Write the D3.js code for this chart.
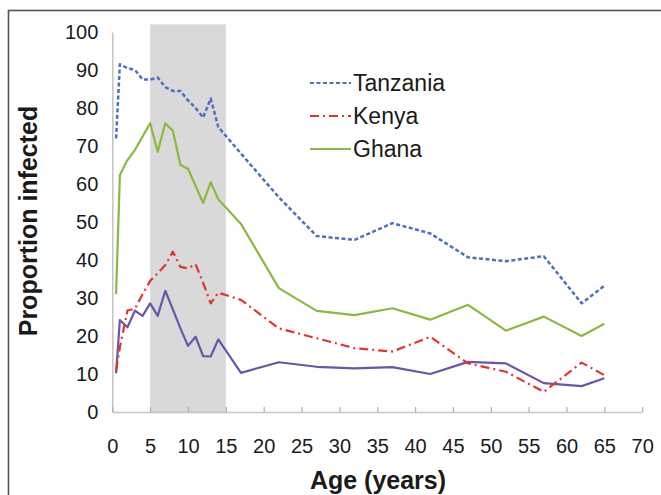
<!DOCTYPE html>
<html>
<head>
<meta charset="utf-8">
<script src="https://cdn.jsdelivr.net/npm/d3@7"></script>
<style>
  body { margin: 0; background: #fff; }
  text { font-family: "Liberation Sans", Arial, sans-serif; fill: #1a1a1a; }
</style>
</head>
<body>
<div id="chart"></div>
<script>

// age groups (years) and proportion infected per country
var ages = [0.5, 1, 2, 3, 4, 5, 6, 7, 8, 9, 10, 11, 12, 13, 14, 17, 22, 27, 32, 37, 42, 47, 52, 57, 62, 65];
var tanzania = [72, 91.5, 90.5, 90, 87.5, 87.5, 88, 85.5, 84.5, 84.5, 82, 80, 77.5, 82.5, 75, 68, 56.5, 46.3, 45.3, 49.7, 47, 40.7, 39.7, 41, 28.6, 33.2];
var kenya = [11, 17, 26.7, 27.2, 31, 34.5, 36.5, 38.7, 42.2, 38.2, 37.8, 38.9, 34, 28.6, 31.4, 29.5, 22, 19.4, 16.8, 15.9, 19.8, 12.8, 10.6, 5.3, 13, 9.7];
var ghana = [31, 62.4, 66.3, 69, 72.5, 76, 68.5, 76, 74, 65, 64, 59.5, 55, 60.5, 56, 49.5, 32.6, 26.6, 25.5, 27.3, 24.3, 28.2, 21.4, 25.1, 20, 23.2];
var other = [10.2, 24.2, 22.3, 26.7, 25.3, 28.6, 25.3, 31.9, 27, 22, 17.4, 19.8, 14.7, 14.6, 19.1, 10.3, 13.1, 11.9, 11.5, 11.8, 10, 13.2, 12.8, 7.6, 6.8, 8.9];

var xTicks = [0, 5, 10, 15, 20, 25, 30, 35, 40, 45, 50, 55, 60, 65, 70];
var yTicks = [0, 10, 20, 30, 40, 50, 60, 70, 80, 90, 100];
var band = [5, 15];  // shaded school-age band

var legendNames = ["Tanzania", "Kenya", "Ghana"];

var series = [
  { name: "Tanzania", values: tanzania, color: "#4d6fc2", width: 2.5, dash: "4,2.5" },
  { name: "Kenya", values: kenya, color: "#e0352d", width: 2.2, dash: "9,4,2,4" },
  { name: "Ghana", values: ghana, color: "#8bb83e", width: 2.2, dash: null },
  { name: "other", values: other, color: "#6a55a9", width: 2.2, dash: null }
];

var W = 661, H = 495;

var svg = d3.select("#chart")
  .append("svg")
  .attr("width", W)
  .attr("height", H);

// outer frame
svg.append("rect")
  .attr("x", 8.5)
  .attr("y", 10.5)
  .attr("width", W)
  .attr("height", H)
  .attr("fill", "#fff")
  .attr("stroke", "#555")
  .attr("stroke-width", 1.6);

var x = d3.scaleLinear()
  .domain([0, 70])
  .range([112.3, 642.2]);

var y = d3.scaleLinear()
  .domain([0, 100])
  .range([412, 32]);

// shaded band
svg.append("rect")
  .attr("x", x(band[0]))
  .attr("y", y(102))
  .attr("width", x(band[1]) - x(band[0]))
  .attr("height", y(0) - y(102))
  .attr("fill", "#d9d9d9");

// Y axis
var gy = svg.append("g")
  .attr("transform", "translate(" + x(0) + ",0)")
  .call(d3.axisLeft(y).tickValues(yTicks).tickSize(0).tickPadding(14));
gy.select(".domain").attr("stroke", "#c4c4c4").attr("stroke-width", 1.5);
gy.selectAll("text").style("font-size", "20px").attr("fill", "#1a1a1a");

// X axis, ticks pointing up into the plot
var gx = svg.append("g")
  .attr("transform", "translate(0," + y(0) + ")")
  .call(d3.axisBottom(x).tickValues(xTicks).tickSizeInner(-5).tickSizeOuter(0).tickPadding(27));
gx.select(".domain").attr("stroke", "#c4c4c4").attr("stroke-width", 1.5);
gx.selectAll(".tick line").attr("stroke", "#b0b0b0").attr("stroke-width", 1.2);
gx.selectAll("text").style("font-size", "20px").attr("fill", "#1a1a1a");

// lines
var line = d3.line()
  .x(function(d, i) { return x(ages[i]); })
  .y(function(d) { return y(d); });

for (var s = series.length - 1; s >= 0; s--) {
  svg.append("path")
    .datum(series[s].values)
    .attr("fill", "none")
    .attr("stroke", series[s].color)
    .attr("stroke-width", series[s].width)
    .attr("stroke-linejoin", "round")
    .style("stroke-dasharray", series[s].dash)
    .attr("d", line);
}

// legend
var legendY = [83, 116, 149];
for (var k = 0; k < legendNames.length; k++) {
  var sr = series[k];
  svg.append("line")
    .attr("x1", 310)
    .attr("x2", 351)
    .attr("y1", legendY[k])
    .attr("y2", legendY[k])
    .attr("stroke", sr.color)
    .attr("stroke-width", sr.width - 0.4)
    .style("stroke-dasharray", sr.dash);
  svg.append("text")
    .attr("x", 353)
    .attr("y", legendY[k])
    .attr("dy", "0.35em")
    .style("font-size", "23px")
    .text(legendNames[k]);
}

// axis titles
svg.append("text")
  .attr("text-anchor", "middle")
  .attr("x", 378)
  .attr("y", 489)
  .style("font-size", "25px")
  .style("font-weight", "bold")
  .text("Age (years)");

svg.append("text")
  .attr("text-anchor", "middle")
  .attr("transform", "translate(37,221)rotate(-90)")
  .style("font-size", "25px")
  .style("font-weight", "bold")
  .text("Proportion infected");

</script>
</body>
</html>
